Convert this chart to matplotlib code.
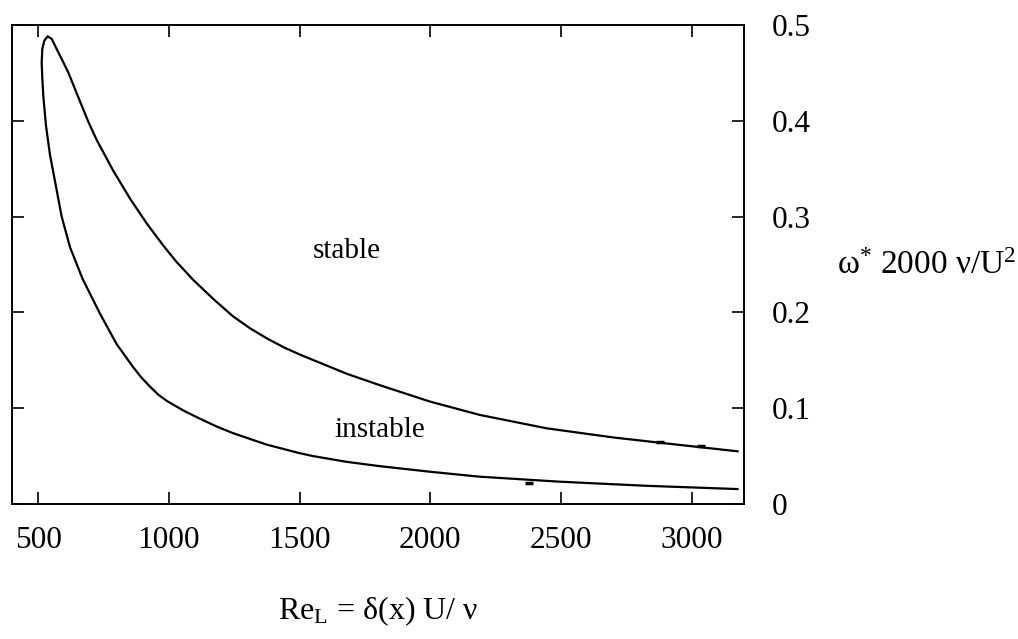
import matplotlib
matplotlib.use("Agg")
import matplotlib.pyplot as plt

plt.rcParams['font.family'] = 'Liberation Serif'
plt.rcParams['mathtext.fontset'] = 'custom'
plt.rcParams['mathtext.rm'] = 'Liberation Serif'
plt.rcParams['mathtext.it'] = 'Liberation Serif:italic'

# neutral stability curve, lower branch (from high Re back to the nose)
re_lower = [3175, 2826, 2495, 2189, 1998, 1807, 1680, 1552, 1501, 1374, 1245,
            1182, 1119, 1056, 993, 960, 928, 895, 863, 800, 736, 670, 622, 590,
            545, 530, 520, 516, 513.5, 516, 523.5, 536.5]
om_lower = [0.0156, 0.019, 0.0233, 0.0285, 0.0337, 0.0395, 0.044, 0.050, 0.053,
            0.062, 0.074, 0.081, 0.089, 0.0975, 0.1075, 0.114, 0.1225, 0.132,
            0.143, 0.167, 0.199, 0.235, 0.268, 0.300, 0.365, 0.395, 0.425,
            0.444, 0.461, 0.475, 0.4836, 0.4882]

# upper branch (from the nose out to high Re)
re_upper = [552, 577, 615, 653.5, 692, 724, 787, 851, 915, 978, 1030, 1093,
            1170, 1245, 1310, 1374, 1440, 1501, 1680, 1807, 1998, 2189, 2445,
            2699, 2877, 3175]
om_upper = [0.4854, 0.4716, 0.4507, 0.4247, 0.399, 0.380, 0.348, 0.319, 0.293,
            0.270, 0.2525, 0.234, 0.214, 0.196, 0.1835, 0.173, 0.1635, 0.156,
            0.136, 0.124, 0.107, 0.093, 0.079, 0.0695, 0.064, 0.055]

# small blots on the curves
re_blots = [2877, 3037, 2378]
om_blots = [0.0645, 0.0604, 0.0215]

x_ticks = [500, 1000, 1500, 2000, 2500, 3000]
y_ticks = [0, 0.1, 0.2, 0.3, 0.4, 0.5]

fig = plt.figure(figsize=(10.18, 6.39), dpi=100)
ax = fig.add_axes([12 / 1018, 135 / 639, 732 / 1018, 479 / 639])

ax.plot(re_lower + re_upper, om_lower + om_upper, color='black', lw=1.6,
        solid_joinstyle='round')
ax.plot(re_blots, om_blots, ls='none', marker='_', ms=6, mew=2.5, color='black')

ax.text(1681, 0.257, 'stable', ha='center', va='baseline', fontsize=21)
ax.text(1807, 0.070, 'instable', ha='center', va='baseline', fontsize=21)

ax.set_xlim(400, 3200)
ax.set_ylim(0, 0.5)
ax.set_xticks(x_ticks)
ax.set_xticklabels([str(v) for v in x_ticks])
ax.set_yticks(y_ticks)
ax.set_yticklabels(['0', '0.1', '0.2', '0.3', '0.4', '0.5'])

ax.tick_params(direction='in', length=8.6, width=1.2, labelsize=22.5,
               top=True, bottom=True, left=True, right=True,
               labelleft=False, labelright=True)
ax.tick_params(axis='x', pad=16)
ax.tick_params(axis='y', pad=20)
for s in ax.spines.values():
    s.set_linewidth(1.4)

ax.set_xlabel(r'Re$_{\mathrm{L}}$ = δ(x) U/ ν', fontsize=23)
ax.xaxis.set_label_coords(0.5, -0.223)
ax.xaxis.label.set_va('center')
ax.set_ylabel(r'ω$^{*}$ 2000 ν/U$^{2}$', fontsize=24, rotation=0,
              ha='center', va='center')
ax.yaxis.set_label_coords(1.25, 0.497)

fig.savefig('out.png', dpi=100)
